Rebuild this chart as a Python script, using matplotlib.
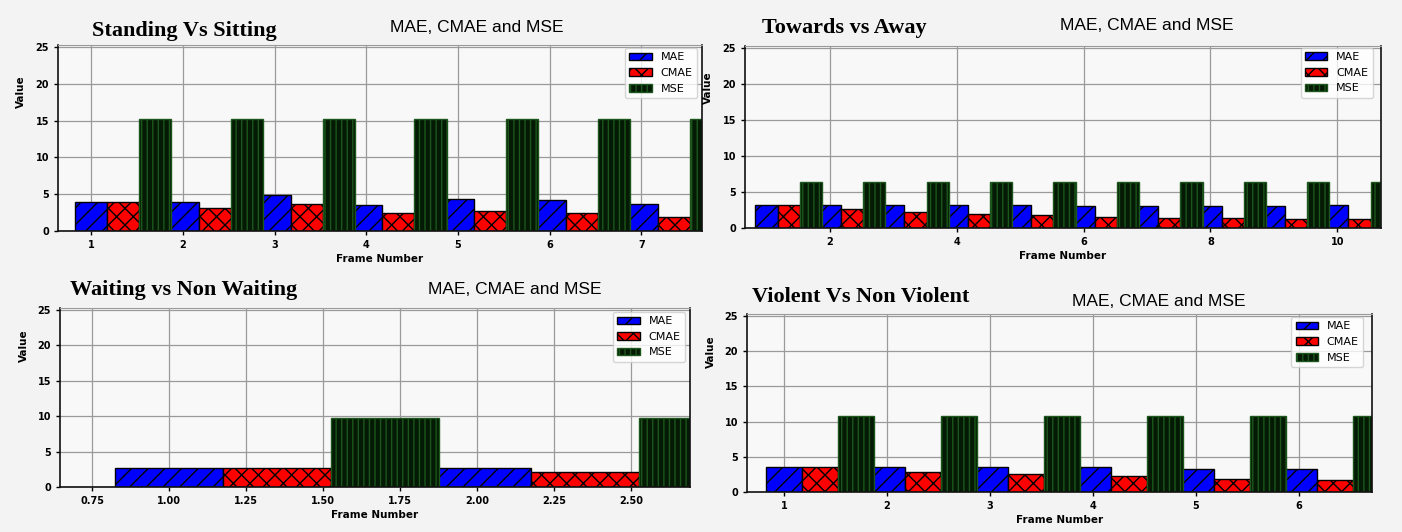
import numpy as np
import matplotlib
matplotlib.use("Agg")
import matplotlib.pyplot as plt

# values
mae_standing = [4.0, 4.0, 4.95, 3.6, 4.3, 4.15, 3.65]
cmae_standing = [4.0, 3.15, 3.65, 2.4, 2.75, 2.4, 1.95]
mse_standing = [15.25] * 7

mae_towards = [3.25, 3.25, 3.25, 3.25, 3.25, 3.05, 3.05, 3.05, 3.05, 3.25]
cmae_towards = [3.25, 2.6, 2.2, 1.95, 1.75, 1.55, 1.45, 1.35, 1.25, 1.2]
mse_towards = [6.35] * 10

mae_waiting = [2.75, 2.75]
cmae_waiting = [2.75, 2.15]
mse_waiting = [9.8, 9.8]

mae_violent = [3.5, 3.5, 3.6, 3.6, 3.3, 3.3]
cmae_violent = [3.5, 2.8, 2.6, 2.3, 1.8, 1.75]
mse_violent = [10.75] * 6

W, H = 1402, 532
plt.rcParams['hatch.linewidth'] = 1.0
fig = plt.figure(figsize=(W / 100, H / 100), dpi=100, facecolor='#f3f3f3')


def px_axes(l, r, t, b):
    return fig.add_axes([l / W, 1 - b / H, (r - l) / W, (b - t) / H])


def draw_panel(ax, mae, cmae, mse, xlim, xticks, fmt, leg_anchor, ylab_y):
    x = np.arange(1, len(mae) + 1)
    w = 0.35
    ax.set_facecolor('#f8f8f8')
    ax.bar(x - w / 2, mae, w, align='edge', color='blue', edgecolor='black',
           hatch='//', label='MAE', zorder=2)
    ax.bar(x + w / 2, cmae, w, align='edge', color='red', edgecolor='black',
           hatch='xx', label='CMAE', zorder=2)
    ax.bar(x + 1.5 * w, mse, w, align='edge', color='#041a04', edgecolor='#1c561c',
           hatch='|||', label='MSE', zorder=2)
    ax.set_xlim(*xlim)
    ax.set_ylim(0, 25.3)
    ax.set_yticks([0, 5, 10, 15, 20, 25])
    ax.set_xticks(xticks)
    ax.set_xticklabels([fmt % t for t in xticks])
    ax.grid(True, color='#9a9a9a', linewidth=0.9)
    ax.set_axisbelow(True)
    ax.tick_params(labelsize=7, length=3, width=1)
    for lab in ax.get_xticklabels() + ax.get_yticklabels():
        lab.set_fontweight('bold')
    for s in ['left', 'bottom', 'right']:
        ax.spines[s].set_color('#111111')
        ax.spines[s].set_linewidth(1.2)
    ax.spines['top'].set_color('#9a9a9a')
    ax.set_xlabel('Frame Number', fontsize=7.5, fontweight='bold', labelpad=3)
    ax.set_ylabel('Value', fontsize=7.5, fontweight='bold')
    ax.yaxis.set_label_coords(-0.05, ylab_y)
    ax.legend(loc='upper right', bbox_to_anchor=leg_anchor, fontsize=8,
              borderaxespad=0, handlelength=2.0, fancybox=True)


ax1 = px_axes(58, 702, 45, 231)
draw_panel(ax1, mae_standing, cmae_standing, mse_standing, (0.64, 7.66),
           [1, 2, 3, 4, 5, 6, 7], '%d', (0.992, 0.984), 0.75)

ax2 = px_axes(745, 1381, 46, 228)
draw_panel(ax2, mae_towards, cmae_towards, mse_towards, (0.66, 10.69),
           [2, 4, 6, 8, 10], '%d', (0.987, 0.99), 0.77)

ax3 = px_axes(60, 690, 308, 487)
draw_panel(ax3, mae_waiting, cmae_waiting, mse_waiting, (0.646, 2.69),
           [0.75, 1.0, 1.25, 1.5, 1.75, 2.0, 2.25, 2.5], '%.2f', (0.992, 0.978), 0.79)

ax4 = px_axes(747, 1372, 314, 492)
draw_panel(ax4, mae_violent, cmae_violent, mse_violent, (0.64, 6.71),
           [1, 2, 3, 4, 5, 6], '%d', (0.986, 0.983), 0.79)

serif = dict(family='Liberation Serif', fontweight='bold', fontsize=16, va='center', ha='left')
sans = dict(family='Liberation Sans', fontsize=12.5, va='center', ha='left')

fig.text(92 / W, 1 - 31 / H, 'Standing Vs Sitting', **serif)
fig.text(390 / W, 1 - 27 / H, 'MAE, CMAE and MSE', **sans)
fig.text(762 / W, 1 - 28 / H, 'Towards vs Away', **serif)
fig.text(1060 / W, 1 - 26 / H, 'MAE, CMAE and MSE', **sans)
fig.text(70 / W, 1 - 290 / H, 'Waiting vs Non Waiting', **serif)
fig.text(428 / W, 1 - 290 / H, 'MAE, CMAE and MSE', **sans)
fig.text(752 / W, 1 - 297 / H, 'Violent Vs Non Violent', **serif)
fig.text(1072 / W, 1 - 301 / H, 'MAE, CMAE and MSE', **sans)

fig.savefig('out.png', dpi=100, facecolor=fig.get_facecolor())
